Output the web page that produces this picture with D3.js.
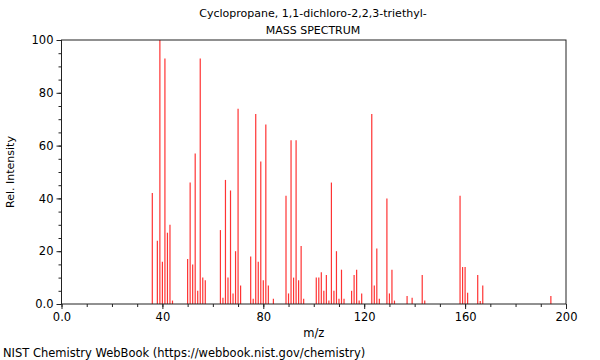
<!DOCTYPE html>
<html><head><meta charset="utf-8">
<script src="https://cdn.jsdelivr.net/npm/d3@7"></script>
<style>body{margin:0;background:#fff}svg{display:block;font-family:"DejaVu Sans",sans-serif}</style>
</head><body><svg id="c" width="600" height="360"></svg>
<script>
const title = "Cyclopropane, 1,1-dichloro-2,2,3-triethyl-";
const subtitle = "MASS SPECTRUM";
const mz = [36,38,39,40,41,42,43,44,50,51,52,53,54,55,56,57,63,64,65,66,67,68,69,70,71,
  75,76,77,78,79,80,81,82,84,89,90,91,92,93,94,95,96,101,102,103,104,105,106,107,108,109,110,111,112,
  115,116,117,118,119,123,124,125,126,129,130,131,132,137,139,143,144,158,159,160,161,165,166,167,194];
const intensity = [42,24,100,16,93,27,30,1.3,17,46,15,57,5,93,10,9,28,2.4,47,10,43,4,20,74,7,
  18,2,72,16,54,9,68,7,2,41,4,62,10,62,9,22,2,10,10,12,5,11,1.3,46,5,20,2,13,2,
  5,11,13,1.3,4,72,7,21,2,40,4,13,1.3,3,2.4,11,1.3,41,14,14,4.3,11,1.1,7,3];
const xTicks = [0,40,80,120,160,200];
const xTickLabels = ["0.0","40","80","120","160","200"];
const yTicks = [0,20,40,60,80,100];
const yTickLabels = ["0.0","20","40","60","80","100"];
const xLabel = "m/z", yLabel = "Rel. Intensity";
const footer = "NIST Chemistry WebBook (https://webbook.nist.gov/chemistry)";

const svg = d3.select("#c");
const L=61.5,R=566,T=40,B=304;
const x = d3.scaleLinear().domain([0,200]).range([L,R]);
const y = d3.scaleLinear().domain([0,100]).range([B,T]);
const ink="#222";

svg.append("text").attr("x",313).attr("y",17).attr("text-anchor","middle").attr("font-size",11).text(title);
svg.append("text").attr("x",313).attr("y",34).attr("text-anchor","middle").attr("font-size",11).text(subtitle);

// bars
svg.append("g").selectAll("line").data(mz).join("line")
  .attr("x1",d=>x(d)).attr("x2",d=>x(d))
  .attr("y1",y(0)).attr("y2",(d,i)=>y(intensity[i]))
  .attr("stroke","#ff3333").attr("stroke-width",1.2);

// minor ticks
const gx = svg.append("g").attr("transform",`translate(0,${B})`);
gx.call(d3.axisBottom(x).tickValues(d3.range(0,201,10)).tickSize(3).tickFormat(""));
const gx2 = svg.append("g").attr("transform",`translate(0,${B})`);
gx2.call(d3.axisBottom(x).tickValues(xTicks).tickSize(5).tickPadding(4).tickFormat((d,i)=>xTickLabels[i]));
const gy = svg.append("g").attr("transform",`translate(${L},0)`);
gy.call(d3.axisLeft(y).tickValues(d3.range(0,101,5)).tickSize(3).tickFormat(""));
const gy2 = svg.append("g").attr("transform",`translate(${L},0)`);
gy2.call(d3.axisLeft(y).tickValues(yTicks).tickSize(5).tickPadding(3).tickFormat((d,i)=>yTickLabels[i]));
svg.selectAll(".domain").remove();
svg.selectAll(".tick line").attr("stroke",ink);
svg.selectAll(".tick text").attr("font-size",11.5).attr("fill","#000").attr("font-family","DejaVu Sans");

// frame
svg.append("rect").attr("x",L).attr("y",T).attr("width",R-L).attr("height",B-T)
  .attr("fill","none").attr("stroke",ink).attr("stroke-width",1);

svg.append("text").attr("x",(L+R)/2).attr("y",337).attr("text-anchor","middle").attr("font-size",11.5).text(xLabel);
svg.append("text").attr("transform",`translate(14,${(T+B)/2}) rotate(-90)`).attr("text-anchor","middle").attr("font-size",11).text(yLabel);
svg.append("text").attr("x",3).attr("y",357).attr("font-size",11.5).text(footer);
</script></body></html>
